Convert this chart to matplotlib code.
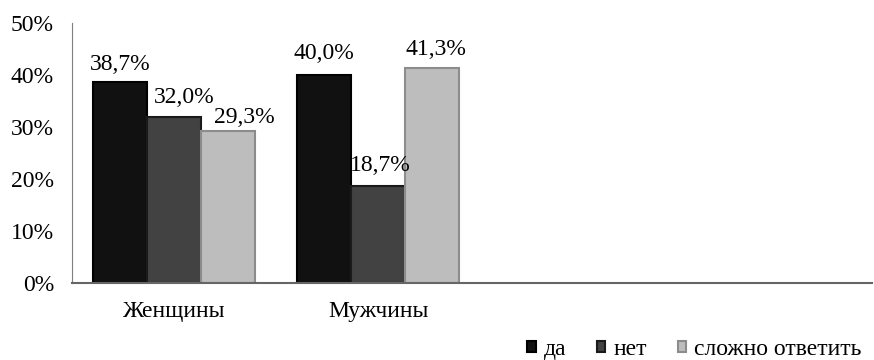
import matplotlib.pyplot as plt
import numpy as np

plt.rcParams['font.family'] = ['Liberation Serif', 'DejaVu Serif']

groups = ["Женщины", "Мужчины"]
series = ["да", "нет", "сложно ответить"]
yes = [38.7, 40.0]
no = [32.0, 18.7]
hard = [29.3, 41.3]
colors = ["#111111", "#424242", "#bdbdbd"]
edges = ["#000000", "#1a1a1a", "#8c8c8c"]

# label nudges (the source shifts some labels right so they don't overlap)
nudge = [[0.0, 0.0], [0.05, 0.01], [0.08, 0.02]]
lift = [[1.4, 2.2], [1.6, 1.8], [0.6, 1.6]]

fig = plt.figure(figsize=(8.74, 3.6), dpi=100)
ax = fig.add_axes([0.0824, 0.214, 0.9156, 0.722])

x = np.arange(len(groups))
w = 0.265
for i, vals in enumerate([yes, no, hard]):
    pos = x + (i - 1) * w
    ax.bar(pos, vals, w, color=colors[i], edgecolor=edges[i], linewidth=1.5, label=series[i])
    for j, (p, v) in enumerate(zip(pos, vals)):
        ax.text(p + nudge[i][j], v + lift[i][j], ("%.1f%%" % v).replace(".", ","),
                ha="center", va="bottom", fontsize=17)

ax.set_xlim(-0.5, 3.42)
ax.set_ylim(0, 50)
ax.set_yticks(range(0, 51, 10))
ax.set_yticklabels(["%d%%" % t for t in range(0, 51, 10)], fontsize=17)
ax.set_xticks(x)
ax.set_xticklabels(groups, fontsize=17)
ax.tick_params(axis='y', length=0, pad=13)
ax.tick_params(axis='x', length=0, pad=13)
for s in ["top", "right"]:
    ax.spines[s].set_visible(False)
ax.spines["left"].set_color("#7f7f7f")
ax.spines["bottom"].set_color("#666666")
ax.spines["bottom"].set_linewidth(1.5)

handles, labels = ax.get_legend_handles_labels()
fig.legend(handles, labels, loc="lower right", bbox_to_anchor=(0.986, 0.0), ncol=3, frameon=False,
           fontsize=17, handlelength=0.35, handleheight=0.35, handletextpad=0.35,
           columnspacing=1.3, borderaxespad=0, borderpad=0)

fig.savefig("out.png", dpi=100)
